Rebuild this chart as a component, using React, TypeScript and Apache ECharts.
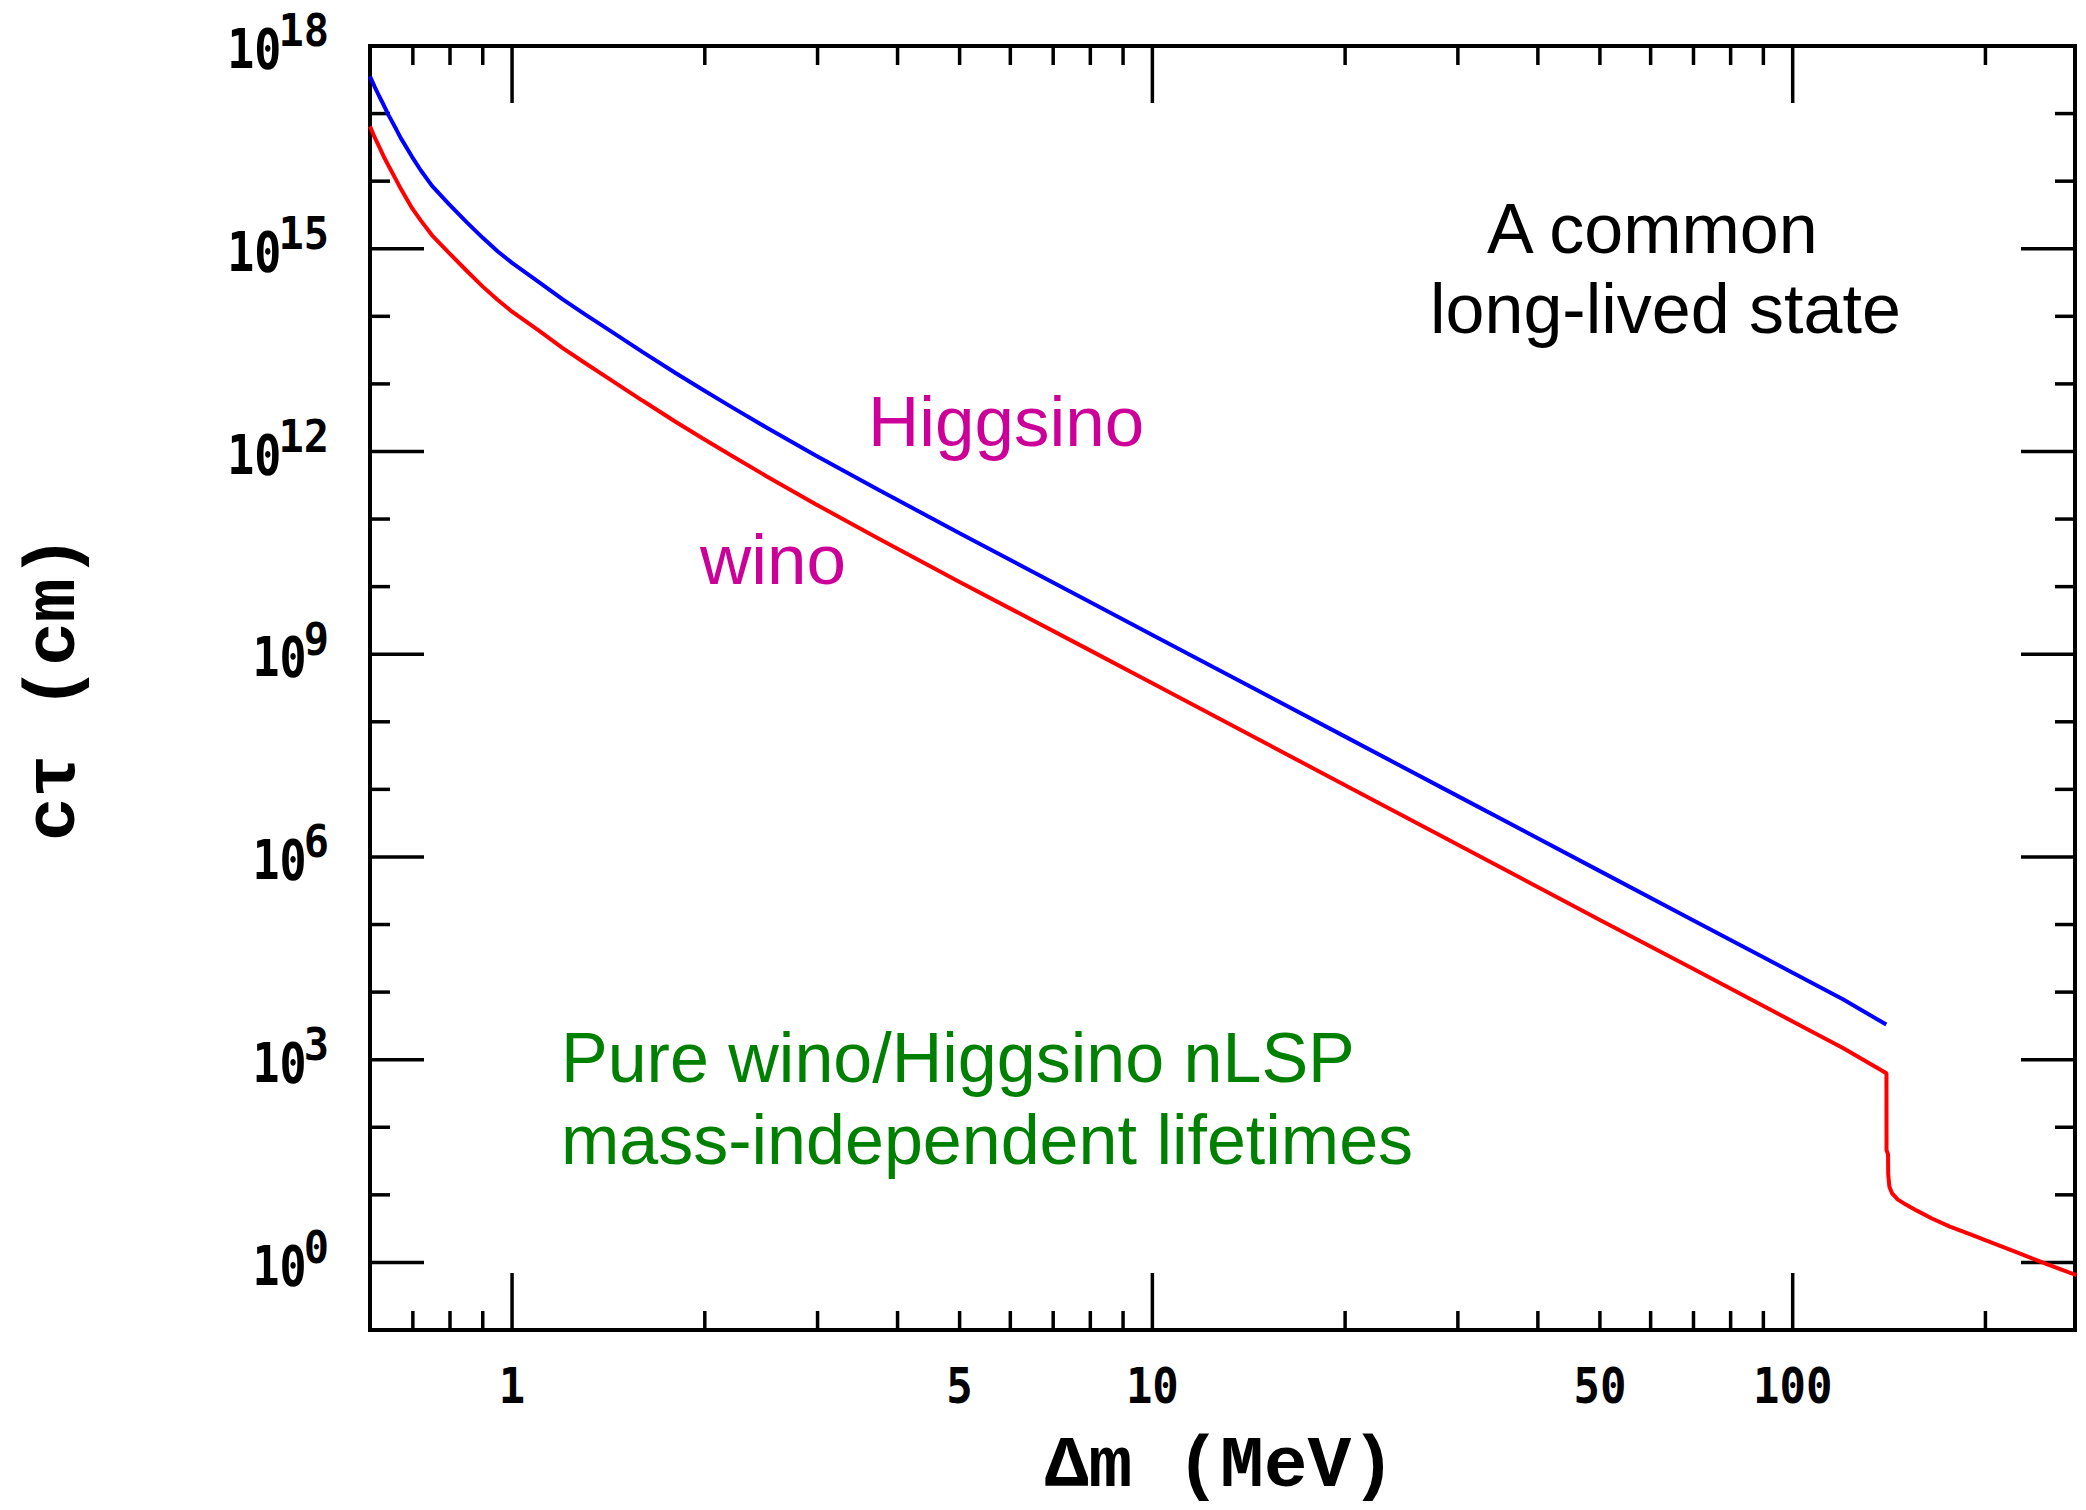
import React, { useEffect, useRef } from "react";
import * as echarts from "echarts";

// ---- data (Δm in MeV, cτ in cm) ----
const higgsinoDm = [0.6, 0.61, 0.62, 0.63, 0.642, 0.66, 0.67, 0.698, 0.72, 0.75, 0.797, 0.85, 0.9, 0.95, 1.0, 1.1, 1.2, 1.3, 1.38, 1.6, 1.8, 1.98, 2.2, 2.5, 2.98, 3.3, 3.74, 5, 7.87, 10, 20, 30, 50, 70, 100, 120, 140];
const higgsinoCtau = [3.55e17, 2.51e17, 1.82e17, 1.35e17, 9.33e16, 5.75e16, 4.37e16, 2.29e16, 1.45e16, 8.51e15, 4.57e15, 2.45e15, 1.45e15, 9.12e14, 6.17e14, 3.24e14, 1.78e14, 1.07e14, 7.41e13, 2.95e13, 1.45e13, 8.32e12, 4.57e12, 2.24e12, 8.71e11, 5.13e11, 2.69e11, 6.17e10, 6.38e9, 1.93e9, 6.03e7, 7.94e6, 6.17e5, 1.15e5, 1.93e4, 7.76e3, 3.31e3];

const winoDm = [0.6, 0.61, 0.62, 0.63, 0.642, 0.66, 0.67, 0.698, 0.72, 0.75, 0.797, 0.85, 0.9, 0.95, 1.0, 1.1, 1.2, 1.3, 1.38, 1.6, 1.8, 1.98, 2.2, 2.5, 2.98, 3.3, 3.74, 5, 7.87, 10, 20, 30, 50, 70, 100, 120, 140.1, 140.15, 140.9, 141.0, 141.6, 143.0, 146, 150, 156, 165, 176, 190, 205, 224, 250, 277.5];
const winoCtau = [6.46e16, 4.47e16, 3.24e16, 2.34e16, 1.66e16, 1.02e16, 7.76e15, 3.98e15, 2.63e15, 1.58e15, 8.71e14, 4.68e14, 2.75e14, 1.74e14, 1.17e14, 6.17e13, 3.39e13, 2.04e13, 1.41e13, 5.62e12, 2.75e12, 1.58e12, 8.71e11, 4.27e11, 1.66e11, 9.77e10, 5.13e10, 1.17e10, 1.23e9, 3.72e8, 1.15e7, 1.51e6, 1.17e5, 2.19e4, 3.68e3, 1.48e3, 631, 45.7, 39.8, 20, 13.2, 10.5, 8.5, 7.24, 5.89, 4.47, 3.39, 2.57, 1.95, 1.41, 0.933, 0.646];

const xMajorTicks = [1, 10, 100];
const xMinorTicks = [0.7, 0.8, 0.9, 2, 3, 4, 5, 6, 7, 8, 9, 20, 30, 40, 50, 60, 70, 80, 90, 200];
const xTickLabels = ["1", "5", "10", "50", "100"];
const yMajorExps = [0, 3, 6, 9, 12, 15, 18];
const yMinorExps = [1, 2, 4, 5, 7, 8, 10, 11, 13, 14, 16, 17];

const xTitle = "Δm (MeV)";
const yTitle = "cτ (cm)";
const noteTopLines = ["A common", "long-lived state"];
const higgsinoLabel = "Higgsino";
const winoLabel = "wino";
const noteBottomLines = ["Pure wino/Higgsino nLSP", "mass-independent lifetimes"];

const X_MIN = 0.6;
const X_MAX = 276;
const Y_MIN = 0.1;
const Y_MAX = 1e18;

const TICK_FONT = "DejaVu Sans Mono";
const TITLE_FONT = "Liberation Mono";
const NOTE_FONT = "Liberation Sans";

function buildOption() {
  const xTickData = [
    ...xMajorTicks.map((v) => [v, 1, 1]),
    ...xMinorTicks.map((v) => [v, 1, 0]),
  ];
  const yTickData = [
    ...yMajorExps.map((e) => [1, Math.pow(10, e), 1]),
    ...yMinorExps.map((e) => [1, Math.pow(10, e), 0]),
  ];
  const xLabelData = xTickLabels.map((s) => [Number(s), 1]);
  const yLabelData = yMajorExps.map((e) => [1, Math.pow(10, e), e]);

  return {
    animation: false,
    backgroundColor: "#ffffff",
    grid: {
      left: 370,
      top: 46,
      width: 1705,
      height: 1284,
      show: true,
      borderColor: "#000",
      borderWidth: 4,
      backgroundColor: "transparent",
    },
    xAxis: {
      type: "log",
      logBase: 10,
      min: X_MIN,
      max: X_MAX,
      axisLine: { show: false },
      axisTick: { show: false },
      axisLabel: { show: false },
      splitLine: { show: false },
      minorTick: { show: false },
    },
    yAxis: {
      type: "log",
      logBase: 10,
      min: Y_MIN,
      max: Y_MAX,
      axisLine: { show: false },
      axisTick: { show: false },
      axisLabel: { show: false },
      splitLine: { show: false },
      minorTick: { show: false },
    },
    series: [
      {
        type: "line",
        name: "Higgsino",
        data: higgsinoDm.map((x, i) => [x, higgsinoCtau[i]]),
        symbol: "none",
        clip: true,
        lineStyle: { color: "#0000ff", width: 4 },
        z: 3,
      },
      {
        type: "line",
        name: "wino",
        data: winoDm.map((x, i) => [x, winoCtau[i]]),
        symbol: "none",
        clip: true,
        lineStyle: { color: "#ff0000", width: 4 },
        z: 3,
      },
      {
        type: "custom",
        clip: false,
        silent: true,
        data: xTickData,
        renderItem: (params: any, api: any) => {
          const cs = params.coordSys;
          const px = api.coord([api.value(0), 1])[0];
          const len = api.value(2) === 1 ? 57 : 19;
          const bottom = cs.y + cs.height;
          return {
            type: "group",
            children: [
              { type: "line", shape: { x1: px, y1: bottom, x2: px, y2: bottom - len }, style: { stroke: "#000", lineWidth: 3.5 } },
              { type: "line", shape: { x1: px, y1: cs.y, x2: px, y2: cs.y + len }, style: { stroke: "#000", lineWidth: 3.5 } },
            ],
          };
        },
      },
      {
        type: "custom",
        clip: false,
        silent: true,
        data: yTickData,
        renderItem: (params: any, api: any) => {
          const cs = params.coordSys;
          const py = api.coord([1, api.value(1)])[1];
          const len = api.value(2) === 1 ? 54 : 20;
          const right = cs.x + cs.width;
          return {
            type: "group",
            children: [
              { type: "line", shape: { x1: cs.x, y1: py, x2: cs.x + len, y2: py }, style: { stroke: "#000", lineWidth: 3.5 } },
              { type: "line", shape: { x1: right, y1: py, x2: right - len, y2: py }, style: { stroke: "#000", lineWidth: 3.5 } },
            ],
          };
        },
      },
      {
        type: "custom",
        clip: false,
        silent: true,
        data: xLabelData,
        renderItem: (params: any, api: any) => {
          const cs = params.coordSys;
          const v = api.value(0);
          const px = api.coord([v, 1])[0];
          return {
            type: "text",
            x: px,
            y: cs.y + cs.height + 55,
            scaleY: 1.15,
            style: {
              text: String(v),
              fill: "#000",
              fontFamily: TICK_FONT,
              fontWeight: "bold",
              fontSize: 44,
              align: "center",
              verticalAlign: "middle",
              textAlign: "center",
              textVerticalAlign: "middle",
            },
          };
        },
      },
      {
        type: "custom",
        clip: false,
        silent: true,
        data: yLabelData,
        renderItem: (params: any, api: any) => {
          const py = api.coord([1, api.value(1)])[1];
          const exp = String(api.value(2));
          const right = 329;
          const supAdv = 42 * 0.602;
          return {
            type: "group",
            children: [
              {
                type: "text",
                x: right - exp.length * supAdv + 3,
                y: py + 3,
                scaleY: 1.22,
                style: {
                  text: "10",
                  fill: "#000",
                  fontFamily: TICK_FONT,
                  fontWeight: "bold",
                  fontSize: 45,
                  align: "right",
                  verticalAlign: "middle",
                  textAlign: "right",
                  textVerticalAlign: "middle",
                },
              },
              {
                type: "text",
                x: right,
                y: py - 15,
                scaleY: 1.05,
                style: {
                  text: exp,
                  fill: "#000",
                  fontFamily: TICK_FONT,
                  fontWeight: "bold",
                  fontSize: 42,
                  align: "right",
                  verticalAlign: "middle",
                  textAlign: "right",
                  textVerticalAlign: "middle",
                },
              },
            ],
          };
        },
      },
    ],
    graphic: [
      {
        type: "text",
        x: 1220,
        y: 1466,
        style: { text: xTitle, fill: "#000", fontFamily: TITLE_FONT, fontWeight: "bold", fontSize: 73, align: "center", verticalAlign: "middle" },
      },
      {
        type: "text",
        x: 54,
        y: 688,
        rotation: Math.PI / 2,
        style: { text: yTitle, fill: "#000", fontFamily: TITLE_FONT, fontWeight: "bold", fontSize: 73, align: "center", verticalAlign: "middle" },
      },
      {
        type: "text",
        x: 1487,
        y: 229,
        style: { text: noteTopLines[0], fill: "#000", fontFamily: NOTE_FONT, fontSize: 70, align: "left", verticalAlign: "middle" },
      },
      {
        type: "text",
        x: 1430,
        y: 309,
        style: { text: noteTopLines[1], fill: "#000", fontFamily: NOTE_FONT, fontSize: 70, align: "left", verticalAlign: "middle" },
      },
      {
        type: "text",
        x: 868,
        y: 421,
        style: { text: higgsinoLabel, fill: "#cc0099", fontFamily: NOTE_FONT, fontSize: 71, align: "left", verticalAlign: "middle" },
      },
      {
        type: "text",
        x: 700,
        y: 559,
        style: { text: winoLabel, fill: "#cc0099", fontFamily: NOTE_FONT, fontSize: 71, align: "left", verticalAlign: "middle" },
      },
      {
        type: "text",
        x: 561,
        y: 1058,
        style: { text: noteBottomLines[0], fill: "#008000", fontFamily: NOTE_FONT, fontSize: 70, align: "left", verticalAlign: "middle" },
      },
      {
        type: "text",
        x: 561,
        y: 1140,
        style: { text: noteBottomLines[1], fill: "#008000", fontFamily: NOTE_FONT, fontSize: 70, align: "left", verticalAlign: "middle" },
      },
    ],
  };
}

export default function App() {
  const ref = useRef<HTMLDivElement>(null);
  useEffect(() => {
    if (!ref.current) return;
    const chart = echarts.init(ref.current, null, { renderer: "svg" });
    chart.setOption(buildOption() as any);
    return () => {
      chart.dispose();
    };
  }, []);
  return (
    <div
      ref={ref}
      style={{ position: "fixed", left: 0, top: 0, width: 2086, height: 1510, background: "#fff" }}
    />
  );
}
